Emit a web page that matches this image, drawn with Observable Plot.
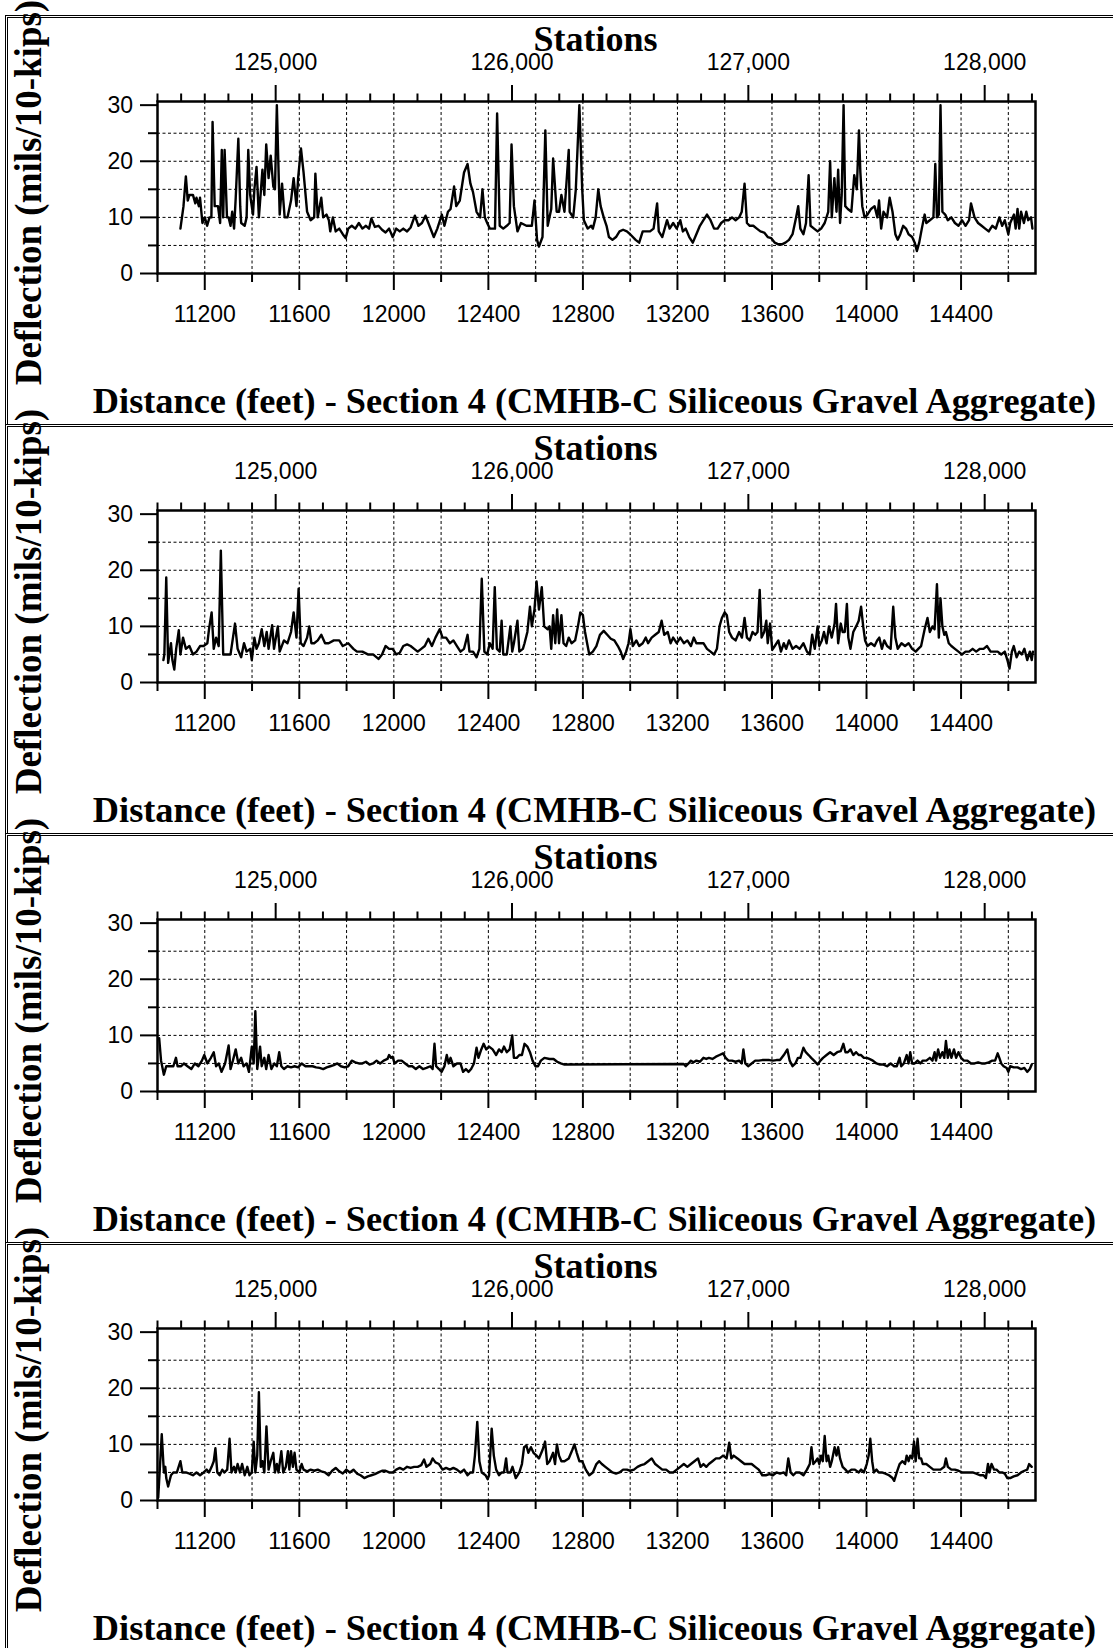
<!DOCTYPE html>
<html>
<head>
<meta charset="utf-8">
<script src="https://cdn.jsdelivr.net/npm/d3@7"></script>
<script src="https://cdn.jsdelivr.net/npm/@observablehq/plot@0.6"></script>
<style>
  html, body { margin: 0; padding: 0; background: #fff; }
  #page { position: relative; width: 1113px; height: 1648px; overflow: hidden; background: #fff; }
  .box { position: absolute; left: 5px; width: 1108px; height: 409px; box-sizing: border-box;
         border-top: 3px double #000; border-left: 3px double #000; }
  #page svg { position: absolute; left: 0; }
</style>
</head>
<body>
<div id="page"></div>
<script>
// ---------------- DATA ----------------
const topLabel = "Stations";
const xLabel = "Distance (feet) - Section 4 (CMHB-C Siliceous Gravel Aggregate)";
const yLabel = "Deflection (mils/10-kips)";

const stationOffset = 113500;            // station = distance + offset
const majorStations = [125000, 126000, 127000, 128000];
const distLabelTicks = [11200, 11600, 12000, 12400, 12800, 13200, 13600, 14000, 14400];
const distMinorTicks = [11000, 11400, 11800, 12200, 12600, 13000, 13400, 13800, 14200, 14600];
const yLabelTicks = [0, 10, 20, 30];
const yMinorTicks = [5, 15, 25];
const yGridValues = [5, 10, 15, 20, 25];

// [distance (ft), deflection (mils/10-kips)]
const run1 = [[11097,8],[11110,12],[11120,17.3],[11128,13],[11135,14],[11150,14],[11160,12.5],[11165,13.5],[11175,12],[11180,13.5],[11190,9],[11200,10],[11210,8.5],[11220,10],[11228,10],[11233,27],[11242,12],[11256,12],[11265,9],[11272,22],[11278,10],[11284,22],[11294,10],[11301,10],[11309,8.5],[11316,11],[11324,8],[11331,13.5],[11342,24],[11350,12],[11354,9],[11369,8.5],[11377,10],[11384,22],[11392,14],[11404,10.5],[11410,15],[11419,19],[11429,10],[11444,18.5],[11452,14],[11460,23],[11470,17],[11479,21],[11490,15.5],[11497,15],[11505,30],[11517,10.5],[11527,16],[11538,10],[11550,10],[11565,13],[11576,17],[11588,12],[11595,17],[11607,22.3],[11618,18],[11633,11],[11648,9.5],[11663,10],[11668,17.8],[11678,10],[11693,13.5],[11701,10],[11715,10.5],[11725,9.5],[11731,7.5],[11742,10],[11754,7.5],[11769,8],[11784,7],[11796,6.3],[11807,8],[11822,8.5],[11837,8],[11852,9],[11867,8],[11882,8.5],[11895,8],[11905,9.8],[11920,8.3],[11935,8.5],[11950,7.8],[11965,7.3],[11980,8],[11995,6.5],[12010,8],[12025,7.5],[12040,8],[12056,7.5],[12071,8.2],[12089,10.3],[12104,8.5],[12119,9],[12134,10.3],[12146,9],[12169,6.5],[12184,8],[12203,10.5],[12214,8.5],[12229,11],[12240,11.5],[12255,15.5],[12264,12],[12279,13],[12297,18],[12312,19.5],[12324,16],[12335,14.5],[12350,11],[12365,10],[12375,15],[12385,10],[12395,9],[12406,8],[12418,8],[12428,8],[12437,28.5],[12448,8.5],[12463,8],[12478,8.5],[12490,9],[12498,23],[12508,12],[12523,7.5],[12538,9],[12561,8.5],[12584,8.5],[12595,13],[12606,6],[12614,4.8],[12629,6.5],[12641,25.5],[12651,8.5],[12666,11.5],[12674,20.5],[12689,11],[12699,11],[12709,14],[12722,11],[12740,22],[12744,11],[12759,10],[12770,15],[12785,30],[12797,15],[12804,9.5],[12820,8],[12835,8.5],[12842,8],[12854,10],[12865,15],[12875,12],[12888,10],[12900,8.5],[12910,6.5],[12925,6],[12940,6.5],[12955,7.5],[12970,7.8],[12986,7.5],[13000,7],[13023,6],[13038,5.5],[13053,7.5],[13069,7.5],[13084,7.5],[13099,8],[13114,12.5],[13121,7.5],[13136,6.5],[13156,9.5],[13167,8],[13182,9],[13197,8],[13212,9.5],[13223,7.5],[13235,8],[13250,6.5],[13265,5.5],[13280,7],[13295,8.5],[13310,9.5],[13325,10.5],[13340,9.5],[13355,8],[13370,8],[13385,9],[13400,9.5],[13416,9.5],[13431,10],[13446,9.5],[13461,10],[13472,11],[13484,16],[13494,9],[13506,8.5],[13521,8.5],[13536,8],[13551,7.5],[13567,7.3],[13582,6.5],[13597,6.3],[13612,5.5],[13627,5.2],[13642,5.2],[13657,5.5],[13672,6],[13687,7],[13702,10],[13711,12],[13720,8],[13733,7],[13744,9],[13755,17.5],[13763,8.5],[13778,8],[13793,7.5],[13808,8],[13823,9],[13838,11],[13846,20],[13853,10],[13864,17],[13873,11],[13880,18.5],[13888,9],[13895,14],[13903,30],[13910,12],[13921,11.5],[13936,11],[13948,17.5],[13959,15],[13968,25.5],[13974,18],[13982,12],[13992,10],[14004,10.5],[14019,11.5],[14034,12],[14046,10],[14053,13],[14062,8],[14072,11],[14087,10],[14098,13.5],[14110,11],[14122,7],[14132,6],[14143,7],[14155,8.5],[14167,8],[14178,7],[14193,6.5],[14204,5.5],[14213,4],[14223,5.5],[14234,8],[14246,10.5],[14253,9],[14268,9.5],[14283,10],[14291,19.5],[14298,10],[14306,10.5],[14313,30],[14321,11],[14333,10.5],[14344,9.5],[14359,10],[14374,9],[14389,8.5],[14404,9.5],[14419,8.5],[14434,9.5],[14442,12.5],[14457,10],[14472,9],[14487,8.5],[14502,8],[14517,7.5],[14532,8.5],[14547,8],[14562,10],[14574,8.5],[14585,9.5],[14600,7],[14608,9],[14624,10.5],[14631,8],[14639,11.5],[14646,8],[14654,11],[14666,9],[14676,11],[14684,9.5],[14696,10],[14702,8]];

const run2 = [[11025,4],[11029,5],[11037,18.7],[11045,3.5],[11057,7],[11063,4],[11071,2.3],[11079,6],[11090,9.3],[11097,5],[11108,8],[11120,6],[11135,6.5],[11150,5],[11165,5.5],[11180,6.5],[11195,6.5],[11211,7],[11218,9.5],[11229,12.5],[11238,6],[11248,8],[11259,6.5],[11268,23.5],[11278,5],[11294,5],[11309,5],[11328,10.5],[11339,6],[11354,4.5],[11366,7],[11377,5.5],[11392,6],[11399,4],[11410,8],[11419,6],[11429,7],[11441,9.5],[11452,6.5],[11462,9],[11470,6],[11485,10.2],[11493,6],[11509,10],[11517,5.5],[11535,7.5],[11550,7],[11565,9],[11576,12.5],[11588,8],[11597,16.7],[11606,7],[11618,6.5],[11633,8],[11642,10],[11651,7],[11663,7],[11678,7.5],[11693,8.5],[11709,7],[11724,7],[11746,7.5],[11769,7.5],[11784,6.5],[11807,7],[11829,6],[11844,5.5],[11867,5.5],[11890,5],[11912,5],[11935,4.2],[11950,5],[11965,6.5],[11980,6],[11995,6],[12010,5],[12025,5.3],[12040,6.5],[12056,6.8],[12071,6.5],[12086,6],[12101,5.5],[12116,6],[12131,6.5],[12146,7.8],[12161,6.5],[12176,8],[12194,9.5],[12206,8],[12221,8],[12237,7],[12252,7.5],[12267,6.5],[12282,5.5],[12297,6],[12312,8.5],[12320,5.5],[12335,5.5],[12350,4.5],[12362,6],[12372,18.5],[12383,5.5],[12395,5],[12406,7],[12418,6],[12427,17],[12436,6],[12448,5.5],[12456,11],[12463,5],[12478,5],[12493,10],[12501,5.5],[12508,7],[12523,11],[12531,5.5],[12546,6],[12553,7],[12565,9],[12576,13.5],[12584,10],[12595,13],[12604,18],[12614,13],[12626,17],[12636,10],[12651,9.5],[12659,10],[12666,6],[12674,12],[12683,7],[12691,13],[12699,7],[12709,12],[12718,7],[12729,6.5],[12740,8],[12752,7],[12767,7.5],[12779,10],[12789,12.5],[12800,12],[12809,9],[12820,6.5],[12827,5],[12842,5.5],[12857,6.5],[12872,8.5],[12888,9.2],[12903,8.5],[12918,7.8],[12933,7.5],[12948,6.5],[12960,5.5],[12970,4.2],[12983,5.5],[12993,7],[13001,9.5],[13011,6.5],[13026,7.5],[13038,6.5],[13053,7],[13066,8],[13076,7],[13091,8],[13106,8.5],[13121,9],[13133,11],[13144,8.5],[13159,9],[13171,7],[13182,8],[13197,7],[13212,8],[13227,7],[13242,7.5],[13257,6.5],[13269,8],[13280,7],[13295,7],[13310,7],[13325,6],[13340,5.5],[13355,5],[13367,6],[13378,10],[13388,11.5],[13400,12.5],[13409,12],[13419,9],[13431,8],[13446,7.5],[13461,9],[13473,8],[13484,11.5],[13494,8],[13506,7.5],[13518,9],[13529,8.5],[13539,9],[13548,16.5],[13556,8],[13567,9],[13576,11],[13582,7],[13592,10.5],[13601,5.8],[13612,6.5],[13627,7.5],[13638,5.5],[13650,7],[13660,6],[13672,7.5],[13687,6],[13702,6.5],[13717,6],[13733,7],[13748,5.5],[13760,5],[13770,8.5],[13781,6],[13793,10],[13800,6.5],[13811,7.5],[13820,9],[13831,7],[13841,10],[13853,8],[13865,10.5],[13871,14],[13880,7],[13891,10.5],[13899,9],[13908,9],[13917,14],[13923,8],[13932,6],[13944,9],[13956,10],[13967,11],[13977,13.5],[13986,10],[13994,7.5],[14004,6.5],[14019,7],[14034,6.5],[14045,7.5],[14054,8],[14065,6],[14075,7.5],[14087,6.5],[14102,6],[14113,13.5],[14122,8],[14132,6],[14148,7],[14163,6.5],[14178,7],[14193,6],[14208,5.5],[14219,6],[14231,6.5],[14246,9.5],[14258,11.5],[14268,9],[14279,10],[14288,9.5],[14298,17.5],[14306,8],[14313,15],[14321,10],[14329,8.5],[14336,9],[14348,7],[14359,6.5],[14374,6],[14389,5.5],[14404,5],[14419,5.5],[14434,5.5],[14449,6],[14464,5.5],[14480,6],[14495,6],[14510,6.5],[14525,5.5],[14540,5.5],[14555,5.5],[14570,5],[14585,5.5],[14596,4],[14605,2.5],[14615,5.5],[14623,6.5],[14635,4.5],[14646,5.5],[14657,5],[14668,6],[14680,4],[14691,5.5],[14699,4],[14704,5.5]];

const run3 = [[11007,9.5],[11015,5.5],[11027,3],[11037,4.5],[11052,4.5],[11067,4.5],[11078,6],[11085,4.5],[11100,4.5],[11112,5],[11127,4.5],[11143,4],[11158,5],[11173,4.5],[11188,5.5],[11198,6.5],[11211,5],[11226,6],[11238,7],[11248,4.5],[11259,5],[11271,3.5],[11286,5],[11301,8.2],[11309,4],[11319,5.5],[11331,7.5],[11342,5],[11354,6],[11364,4.5],[11377,5],[11387,3.5],[11399,8],[11407,5],[11414,14.3],[11422,4],[11434,8],[11441,4.5],[11452,6],[11460,4],[11470,6.5],[11482,4],[11494,5],[11505,4.5],[11515,7],[11524,4.5],[11535,4],[11550,4.5],[11565,4.3],[11580,4.5],[11595,4.3],[11610,5],[11626,4.5],[11641,4.5],[11656,4.5],[11671,4.3],[11686,4.2],[11701,4],[11716,4.3],[11731,4.5],[11746,4.7],[11761,5],[11776,4.5],[11792,4.3],[11807,4.5],[11822,5.5],[11837,5.2],[11852,5],[11867,5],[11882,5.3],[11897,4.8],[11912,5],[11927,5.5],[11942,5],[11957,5.5],[11973,5.8],[11980,6.5],[11988,6],[11995,6.2],[12003,5],[12018,5.5],[12033,5.5],[12048,5],[12063,4.5],[12078,4.5],[12093,4],[12108,4.5],[12123,4],[12138,4.2],[12154,4.5],[12164,4],[12172,8.5],[12179,4.5],[12191,4],[12202,3.5],[12214,4.5],[12224,6.5],[12232,5],[12240,6],[12252,4.5],[12267,5],[12282,5],[12293,3.5],[12305,4],[12316,3.5],[12327,4],[12339,5],[12350,7.8],[12358,6],[12370,7.5],[12380,8.5],[12391,7.5],[12403,8],[12418,7.5],[12433,6.5],[12445,7.5],[12456,7],[12466,8],[12478,7],[12490,7.5],[12501,10],[12508,6],[12520,6],[12531,6.5],[12542,6.5],[12553,8.5],[12565,8],[12576,7],[12587,5.5],[12599,4.5],[12610,4.5],[12622,5.5],[12637,6],[12659,5.8],[12676,5.8],[12691,5.3],[12706,5],[12722,4.8],[13227,4.9],[13235,4.5],[13247,5],[13257,5.5],[13268,5.2],[13280,5.5],[13295,5.3],[13310,6],[13322,5.8],[13333,6],[13348,5.8],[13363,6.2],[13378,6.5],[13393,6.8],[13404,6],[13416,5.5],[13431,5.5],[13446,5.3],[13461,5.5],[13472,5],[13479,7.5],[13487,5],[13499,4.5],[13514,5],[13529,5.5],[13544,5.5],[13559,5.6],[13574,5.6],[13589,5.6],[13604,5.5],[13619,5.6],[13634,5.6],[13650,6.5],[13665,7.5],[13675,5.5],[13687,4.5],[13699,5],[13710,6],[13720,6],[13733,7.8],[13743,7],[13755,6.5],[13766,6],[13778,5.5],[13793,4.8],[13805,5.5],[13816,6],[13831,6.5],[13846,7],[13861,6.5],[13876,7],[13891,7.2],[13902,8.5],[13911,7],[13921,7],[13932,7.5],[13944,6.5],[13956,7],[13967,6.5],[13977,6.5],[13989,6],[14001,6],[14012,5.8],[14027,5.5],[14042,5],[14057,4.8],[14072,4.8],[14087,4.5],[14102,5],[14117,4.5],[14128,4.5],[14140,6],[14147,4.5],[14158,5],[14170,6.5],[14178,5],[14185,7],[14193,5],[14204,5],[14216,5.5],[14228,5],[14238,5.5],[14253,5.5],[14268,6],[14279,5.5],[14288,7],[14294,5.5],[14303,7.5],[14311,6],[14321,7],[14329,6],[14336,9],[14344,6],[14351,7.5],[14359,6],[14370,7.5],[14379,6],[14389,7],[14400,6],[14412,5.5],[14427,5.5],[14442,5],[14457,5],[14472,5.2],[14487,5],[14502,5],[14517,5.2],[14532,5.5],[14544,5.5],[14555,6.8],[14562,6],[14570,5],[14580,4.5],[14593,4.2],[14600,3.5],[14608,4.5],[14623,4.3],[14639,4.3],[14654,4],[14668,4.2],[14680,3.5],[14691,4],[14699,4.8]];

const run4 = [[11003,0.5],[11018,11.8],[11027,5],[11033,6],[11037,4],[11045,2.5],[11057,4.5],[11067,5],[11082,5],[11097,7],[11105,5],[11120,5],[11135,4.8],[11150,4.5],[11165,5],[11180,4.5],[11195,5],[11208,5.5],[11218,5],[11229,6],[11238,7],[11245,9.3],[11253,5],[11263,4.5],[11274,5.5],[11283,5],[11295,5.5],[11305,11],[11313,5],[11324,6],[11331,5],[11339,6.5],[11349,5],[11358,6.5],[11369,4.5],[11380,6],[11389,4.5],[11399,5],[11407,10.5],[11414,5],[11422,8],[11429,19.3],[11437,6],[11444,7],[11452,5],[11461,13.2],[11470,5.5],[11479,7],[11490,8.5],[11497,5],[11505,6.5],[11512,5],[11524,8.8],[11532,5],[11543,6],[11552,8.8],[11558,5.5],[11565,8.8],[11573,6],[11580,8.5],[11588,5.5],[11600,5],[11610,6.5],[11618,5.5],[11633,5.2],[11648,5.5],[11663,5.3],[11678,5.5],[11693,5.2],[11709,5],[11724,4.5],[11739,5.3],[11754,5.8],[11769,5.2],[11784,4.8],[11799,5.5],[11814,5],[11829,5.5],[11844,4.8],[11859,4.5],[11875,4],[11890,4.3],[11905,4.5],[11920,4.7],[11935,5],[11950,5.3],[11965,5.3],[11980,5],[11995,5],[12010,5.5],[12025,5.8],[12040,5.5],[12056,6],[12071,5.8],[12086,6],[12101,6],[12116,6.3],[12128,7.3],[12138,6],[12154,6.5],[12164,7.5],[12176,6.8],[12191,6.5],[12206,5.5],[12221,5.8],[12237,5.5],[12252,5.8],[12267,5.5],[12282,5],[12297,5.5],[12312,4.5],[12324,5],[12335,5],[12343,8],[12353,14],[12362,7],[12372,5],[12388,4.5],[12397,3.8],[12403,4.5],[12414,12.8],[12423,8],[12433,5.5],[12445,4.5],[12456,5],[12466,5],[12475,7.5],[12481,5],[12493,5],[12502,6],[12516,4],[12531,5],[12542,6.5],[12551,9.5],[12561,9.8],[12569,8.5],[12580,9.5],[12591,8.5],[12604,8],[12614,7.5],[12629,9],[12640,10.5],[12649,6.5],[12659,7],[12674,8.5],[12682,6.5],[12690,10],[12699,8],[12709,7],[12722,7],[12740,7.5],[12755,9],[12764,10],[12774,8.5],[12785,7],[12797,7],[12812,5.5],[12827,4.5],[12842,5],[12857,6.5],[12869,7],[12880,6.5],[12895,6],[12910,5.5],[12925,5],[12940,4.8],[12955,5],[12970,5.5],[12986,5.5],[13000,5.3],[13016,5.5],[13031,6],[13046,6.3],[13061,6.5],[13076,7],[13091,7.5],[13106,6.5],[13121,6],[13136,5.5],[13152,5.5],[13167,5],[13182,5],[13197,5.5],[13212,6],[13227,6.5],[13242,6],[13257,6.5],[13272,7],[13287,7.5],[13298,6],[13310,6.5],[13322,6],[13333,6.5],[13348,7],[13363,7.5],[13378,7.5],[13393,8],[13408,7.5],[13419,10.3],[13428,7.5],[13438,8],[13454,7.5],[13469,7],[13484,6.5],[13499,6.5],[13514,6.5],[13529,6],[13544,5.5],[13559,4.5],[13574,4.5],[13589,4.7],[13604,4.5],[13619,5],[13634,4.8],[13650,5],[13660,4.5],[13669,7.5],[13679,5],[13690,4.5],[13702,5],[13717,5],[13733,4.5],[13748,5.5],[13760,6.5],[13767,9.5],[13775,6.5],[13785,7],[13793,7.5],[13800,6.5],[13808,8],[13815,7],[13823,11.5],[13831,7],[13838,8],[13846,6],[13853,7],[13865,9.5],[13873,8],[13880,9.5],[13888,7.5],[13899,6],[13911,5.5],[13921,5],[13936,5.5],[13951,5.5],[13967,5],[13977,5.5],[13989,5],[14001,6.5],[14009,8],[14016,11],[14024,7],[14031,5],[14042,5.5],[14052,5],[14065,5],[14080,4.8],[14095,4.5],[14110,4],[14117,3.5],[14128,5],[14140,6.5],[14152,7],[14163,6.5],[14170,8],[14178,7],[14185,8],[14193,7.5],[14201,10.5],[14208,7],[14216,11],[14223,7.5],[14231,7.5],[14238,6.5],[14253,6.5],[14268,6],[14283,5.5],[14298,5.5],[14313,5.5],[14329,6],[14336,7.5],[14344,6],[14359,5.5],[14374,5.5],[14389,5.3],[14404,5],[14419,5],[14434,5],[14449,5],[14464,4.8],[14480,4.5],[14495,4.5],[14505,4],[14514,6.5],[14520,5],[14529,6.5],[14540,5.5],[14550,5.5],[14562,5],[14574,5],[14585,4.8],[14596,4],[14608,4],[14623,4.3],[14639,4.5],[14654,5],[14668,5.3],[14680,5.5],[14688,6.5],[14699,6]];

const runs = [run1, run2, run3, run4];

// ---------------- DRAW ----------------
const page = document.getElementById("page");
const panelTop0 = 15, panelPitch = 409;
const serif = "'Liberation Serif', 'Times New Roman', Times, serif";
const sans = "'Liberation Sans', Arial, Helvetica, sans-serif";

const majorStationDist = majorStations.map(s => s - stationOffset);
const minorStationDist = d3.range(124500, 128201, 100)
  .filter(s => !majorStations.includes(s)).map(s => s - stationOffset);
const xGridValues = d3.range(11200, 14601, 200);

runs.forEach((run, i) => {
  const top = panelTop0 + panelPitch * i;
  const box = document.createElement("div");
  box.className = "box";
  box.style.top = top + "px";
  page.appendChild(box);

  const chart = Plot.plot({
    width: 1113,
    height: 409,
    marginLeft: 157,
    marginRight: 78,
    marginTop: 86,
    marginBottom: 151,
    style: {fontFamily: sans, fontSize: "23px", color: "#000", background: "transparent", overflow: "visible"},
    x: {domain: [11000, 14715], label: null},
    y: {domain: [0, 30.65], label: null},
    marks: [
      Plot.gridX(xGridValues, {stroke: "#000", strokeOpacity: 1, strokeWidth: 1, strokeDasharray: "3,2.5"}),
      Plot.gridY(yGridValues, {stroke: "#000", strokeOpacity: 1, strokeWidth: 1, strokeDasharray: "3,2.5"}),
      Plot.line(run, {x: d => d[0], y: d => d[1], stroke: "#000", strokeWidth: 2.4, strokeLinejoin: "round"}),
      Plot.frame({stroke: "#000", strokeWidth: 2.5}),
      Plot.axisY({ticks: yLabelTicks, tickSize: 17, tickPadding: 7.5, tickFormat: d3.format("d"), strokeWidth: 2, label: null}),
      Plot.axisY({ticks: yMinorTicks, tickSize: 9, tickFormat: () => "", strokeWidth: 2, label: null}),
      Plot.axisX({anchor: "bottom", ticks: distLabelTicks, tickSize: 17, tickPadding: 15.4, tickFormat: d3.format("d"), strokeWidth: 2, label: null}),
      Plot.axisX({anchor: "bottom", ticks: distMinorTicks, tickSize: 9, tickFormat: () => "", strokeWidth: 2, label: null}),
      Plot.axisX({anchor: "top", ticks: majorStationDist, tickSize: 17, tickPadding: 15, tickFormat: d => d3.format(",")(d + stationOffset), strokeWidth: 2, label: null}),
      Plot.axisX({anchor: "top", ticks: minorStationDist, tickSize: 8.5, tickFormat: () => "", strokeWidth: 2, label: null}),
      Plot.text([topLabel], {frameAnchor: "top", lineAnchor: "bottom", textAnchor: "middle", dx: -1, dy: -51,
        fontFamily: serif, fontWeight: "bold", fontSize: 36, fill: "#000"}),
      Plot.text([xLabel], {frameAnchor: "bottom", lineAnchor: "bottom", textAnchor: "middle", dx: -2, dy: 139.5,
        fontFamily: serif, fontWeight: "bold", fontSize: 36.3, fill: "#000"}),
      Plot.text([yLabel], {frameAnchor: "left", lineAnchor: "bottom", textAnchor: "middle", rotate: -90, dx: -117, dy: 5,
        fontFamily: serif, fontWeight: "bold", fontSize: 37, fill: "#000"})
    ]
  });
  chart.style.top = top + "px";
  page.appendChild(chart);
});
</script>
</body>
</html>
